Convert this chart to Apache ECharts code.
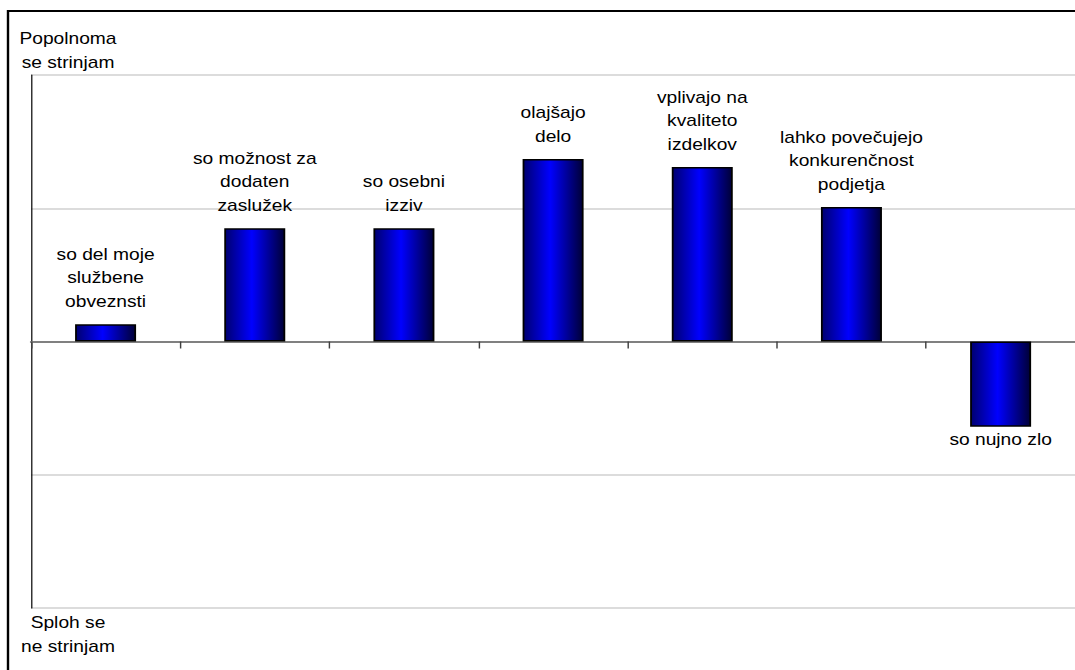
<!DOCTYPE html>
<html>
<head>
<meta charset="utf-8">
<script src="https://cdn.jsdelivr.net/npm/echarts@6/dist/echarts.min.js"></script>
<style>
  html, body { margin: 0; padding: 0; background: #ffffff; overflow: hidden; }
  /* The chart is laid out on a narrower canvas and widened, which gives the
     broad lettering of the original figure. */
  #wrap { width: 1075px; height: 670px; overflow: hidden; }
  #chart { width: 896px; height: 670px; transform: scaleX(1.2); transform-origin: 0 0; }
</style>
</head>
<body>
<div id="wrap"><div id="chart"></div></div>
<script>
// Statements about the measures, and the average agreement score for each
const categories = [
  'so del moje\nslužbene\nobveznsti',
  'so možnost za\ndodaten\nzaslužek',
  'so osebni\nizziv',
  'olajšajo\ndelo',
  'vplivajo na\nkvaliteto\nizdelkov',
  'lahko povečujejo\nkonkurenčnost\npodjetja',
  'so nujno zlo'
];
const scores = [0.13, 0.85, 0.85, 1.37, 1.31, 1.01, -0.64];

// Scale end labels
const topLabel = 'Popolnoma\nse strinjam';
const bottomLabel = 'Sploh se\nne strinjam';

const FONT = '"Liberation Sans", Arial, sans-serif';
const SX = 1.2; // horizontal widening applied to the chart box

const barFill = new echarts.graphic.LinearGradient(0, 0, 1, 0, [
  { offset: 0, color: '#000070' },
  { offset: 0.45, color: '#0000ff' },
  { offset: 1, color: '#000038' }
]);

const chart = echarts.init(document.getElementById('chart'), null, { renderer: 'svg' });

chart.setOption({
  backgroundColor: '#ffffff',
  animation: false,
  grid: { left: 31 / SX, top: 75, width: 1049 / SX, height: 533, containLabel: false },
  xAxis: {
    type: 'category',
    data: categories,
    boundaryGap: true,
    axisLine: { show: true, onZero: true, lineStyle: { color: '#808080', width: 2 } },
    axisTick: { show: true, inside: false, length: 7, lineStyle: { color: '#404040', width: 1.2 } },
    axisLabel: { show: false },
    splitLine: { show: false }
  },
  yAxis: {
    type: 'value',
    min: -2,
    max: 2,
    interval: 1,
    axisLine: { show: true, lineStyle: { color: '#000000', width: 1 } },
    axisTick: { show: false },
    axisLabel: { show: false },
    splitLine: { show: true, lineStyle: { color: '#dcdcdc', width: 2 } }
  },
  series: [{
    type: 'bar',
    data: scores.map(v => ({
      value: v,
      label: { position: v >= 0 ? 'top' : 'bottom' }
    })),
    barWidth: 61 / SX,
    itemStyle: { color: barFill, borderColor: '#000000', borderWidth: 1.5 },
    label: {
      show: true,
      formatter: p => categories[p.dataIndex],
      color: '#000000',
      fontFamily: FONT,
      fontSize: 16,
      lineHeight: 23.5,
      align: 'center',
      distance: 6,
      offset: [0, -5]
    }
  }],
  graphic: [
    {
      type: 'rect',
      shape: { x: 8 / SX, y: 11, width: 1100, height: 700 },
      style: { fill: 'none', stroke: '#000000', lineWidth: 2 },
      silent: true
    },
    {
      type: 'text',
      style: { x: 68 / SX, y: 51, text: topLabel, textAlign: 'center', textVerticalAlign: 'middle',
               font: '16px ' + FONT, lineHeight: 24, fill: '#000000' }
    },
    {
      type: 'text',
      style: { x: 68 / SX, y: 635, text: bottomLabel, textAlign: 'center', textVerticalAlign: 'middle',
               font: '16px ' + FONT, lineHeight: 24, fill: '#000000' }
    }
  ]
});
</script>
</body>
</html>
